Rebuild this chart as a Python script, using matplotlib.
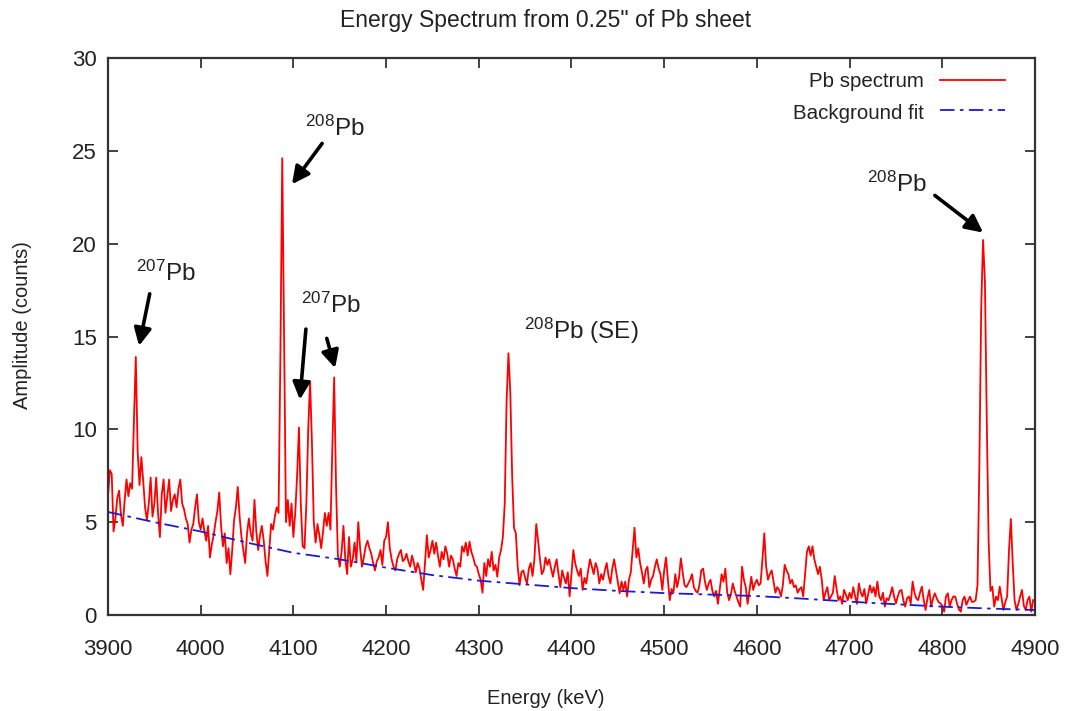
import numpy as np
import matplotlib
matplotlib.use("Agg")
import matplotlib.pyplot as plt
from matplotlib.lines import Line2D

plt.rcParams['font.family'] = ['Liberation Sans', 'DejaVu Sans']
plt.rcParams['mathtext.default'] = 'regular'

# Spectrum, 2 keV bins from 3900 to 4898 keV
energy = np.arange(3900, 4900, 2)
amplitude = [
    6.4, 7.8, 7.6, 4.5, 5.2, 6.3, 6.7, 5.4, 4.8, 6.2, 7.3, 6.4, 7.1, 6.8, 10.5, 13.9, 8.8, 7.0, 8.5, 7.2, 5.8, 5.1, 6.0, 7.4, 5.3,
    6.0, 7.4, 5.5, 4.2, 6.5, 7.3, 5.5, 6.4, 7.3, 5.6, 6.2, 6.5, 5.8, 6.8, 7.3, 6.0, 5.7, 5.2, 4.9, 3.9, 4.6, 4.9, 5.8, 6.5, 5.0,
    4.6, 5.2, 4.5, 4.0, 4.8, 3.1, 3.8, 4.3, 5.0, 5.6, 6.6, 4.8, 3.7, 4.4, 2.8, 3.6, 2.2, 3.5, 5.1, 5.8, 6.9, 5.3, 4.2, 3.5, 2.8,
    4.4, 5.2, 4.4, 4.0, 6.2, 4.5, 3.5, 4.3, 4.8, 4.0, 2.9, 2.1, 3.5, 4.9, 4.6, 5.3, 5.8, 5.5, 14.0, 24.6, 15.0, 5.0, 6.2, 4.8, 6.0,
    4.2, 5.5, 7.5, 10.1, 6.0, 3.7, 3.6, 6.0, 10.0, 12.6, 9.3, 5.0, 3.9, 4.9, 4.3, 3.6, 4.5, 5.5, 4.8, 5.5, 4.6, 9.0, 12.8, 7.0, 3.2,
    2.6, 3.4, 4.8, 3.0, 2.2, 4.2, 2.6, 3.0, 3.9, 2.9, 5.0, 3.6, 2.6, 3.1, 3.7, 4.0, 3.6, 3.3, 2.8, 2.4, 2.9, 3.1, 3.5, 2.7, 4.0,
    4.2, 5.0, 3.6, 3.0, 2.6, 2.4, 3.0, 3.3, 3.5, 2.9, 3.0, 3.3, 2.9, 2.6, 3.2, 2.8, 2.3, 2.8, 2.5, 1.9, 1.35, 2.8, 4.3, 3.1, 3.5,
    4.0, 3.3, 3.9, 3.2, 2.6, 3.4, 3.0, 3.7, 3.3, 2.6, 3.2, 3.0, 2.5, 2.1, 2.8, 2.6, 3.7, 3.4, 3.9, 3.2, 3.95, 3.4, 3.1, 2.7, 2.6,
    2.2, 1.9, 1.2, 2.8, 2.1, 3.0, 2.6, 3.4, 2.4, 2.7, 2.06, 3.1, 3.5, 4.2, 6.0, 11.5, 14.1, 12.0, 7.5, 4.7, 4.4, 2.6, 1.6, 2.3, 2.4,
    2.0, 1.7, 2.5, 2.8, 2.1, 3.0, 4.9, 4.0, 3.0, 2.2, 2.4, 3.1, 2.7, 3.0, 2.5, 2.06, 2.6, 3.0, 2.2, 1.5, 2.4, 2.0, 1.7, 2.3, 1.0,
    2.2, 3.5, 2.8, 2.4, 2.1, 2.5, 1.35, 2.0, 1.7, 2.4, 3.0, 2.6, 2.2, 2.8, 2.5, 1.7, 2.2, 1.9, 2.4, 2.8, 2.1, 1.7, 2.5, 3.0, 2.4,
    1.8, 1.17, 1.8, 1.35, 1.8, 1.0, 1.9, 2.3, 3.5, 4.7, 3.1, 3.6, 2.8, 2.3, 1.7, 2.4, 2.6, 1.5, 1.9, 2.1, 2.6, 3.0, 2.5, 2.2, 1.35,
    2.4, 3.1, 1.9, 0.8, 1.4, 1.2, 2.2, 1.5, 2.0, 3.05, 2.3, 1.6, 1.5, 1.7, 1.9, 2.2, 1.5, 1.3, 1.2, 1.6, 2.4, 2.5, 1.8, 1.35, 1.7,
    1.9, 1.3, 1.0, 1.3, 0.6, 1.4, 2.2, 1.8, 2.5, 1.2, 0.8, 1.1, 1.7, 1.3, 1.0, 0.7, 0.45, 2.6, 1.9, 1.5, 0.6, 1.3, 2.06, 1.35, 1.7,
    1.9, 1.6, 1.7, 3.0, 4.4, 2.6, 1.9, 2.2, 2.4, 1.8, 1.2, 1.5, 1.35, 1.0, 1.6, 2.7, 2.4, 2.2, 1.7, 1.9, 1.5, 1.6, 1.2, 1.4, 1.5,
    1.0, 2.2, 3.4, 3.7, 3.2, 3.7, 3.0, 2.6, 2.2, 2.6, 1.9, 0.8, 1.2, 1.5, 0.8, 1.0, 1.2, 2.1, 1.4, 0.8, 1.0, 0.6, 1.35, 1.1, 0.8,
    1.2, 0.9, 1.5, 1.0, 0.6, 1.7, 1.2, 1.0, 1.4, 0.63, 1.1, 1.6, 1.2, 1.5, 1.0, 1.8, 1.0, 0.8, 1.2, 0.45, 0.9, 0.8, 1.1, 1.5, 1.0,
    0.63, 1.0, 1.3, 1.35, 0.8, 0.45, 0.9, 1.0, 0.63, 1.8, 1.2, 0.9, 0.8, 1.2, 1.53, 0.8, 0.27, 0.9, 1.35, 0.45, 0.9, 1.17, 0.9, 0.7, 0.63,
    0.5, 0.18, 1.0, 1.17, 0.45, 0.8, 1.0, 0.99, 0.6, 0.3, 0.18, 0.8, 0.99, 0.54, 0.8, 0.99, 0.7, 0.72, 0.8, 1.6, 8.0, 16.5, 20.2, 18.0, 10.5,
    4.0, 1.3, 1.53, 0.45, 0.99, 0.8, 1.53, 0.9, 0.27, 0.7, 1.0, 3.5, 5.17, 2.8, 0.8, 0.27, 0.6, 1.0, 1.35, 0.5, 0.27, 0.8, 0.99, 0.18, 0.8,
]

# Background fit, every 50 keV
bg_energy = np.arange(3900, 4901, 50)
bg_values = [5.55, 5.0, 4.5, 3.9, 3.35, 3.0, 2.55, 2.15, 1.85, 1.65, 1.45,
             1.3, 1.18, 1.1, 1.02, 0.88, 0.72, 0.58, 0.45, 0.35, 0.27]

xticks = [3900, 4000, 4100, 4200, 4300, 4400, 4500, 4600, 4700, 4800, 4900]
yticks = [0, 5, 10, 15, 20, 25, 30]

text_col = '#222222'
fig = plt.figure(figsize=(10.65, 7.11), dpi=100)
ax = fig.add_axes([0.1014, 0.135, 0.8704, 0.7834])

ax.plot(energy, amplitude, color='#ff0000', lw=1.3)
ax.plot(bg_energy, bg_values, color='#1a1ad0', lw=1.3, dashes=(8, 3, 2, 3))

ax.set_xlim(3900, 4900)
ax.set_ylim(0, 30)
ax.set_xticks(xticks)
ax.set_yticks(yticks)
ax.tick_params(direction='in', length=7, width=1.2, top=True, right=True,
               labelsize=16, colors=text_col)
ax.tick_params(axis='x', pad=17)
ax.tick_params(axis='y', pad=8)
for s in ax.spines.values():
    s.set_linewidth(1.6)
    s.set_color('#333333')

ax.set_xlabel('Energy (keV)', fontsize=14.5, color=text_col, va='center')
ax.xaxis.set_label_coords(0.4725, -0.149)
ax.set_ylabel('Amplitude (counts)', fontsize=14.5, color=text_col, va='center')
ax.yaxis.set_label_coords(-0.092, 0.52)
fig.text(546 / 1065, 1 - 20 / 711, 'Energy Spectrum from 0.25" of Pb sheet',
         ha='center', va='center', fontsize=16.5, color=text_col)

# legend drawn gnuplot style: text right-aligned, sample to the right
ax.text(0.880, 0.957, 'Pb spectrum', transform=ax.transAxes, ha='right',
        va='center', fontsize=14.8, color=text_col)
ax.text(0.880, 0.901, 'Background fit', transform=ax.transAxes, ha='right',
        va='center', fontsize=14.8, color=text_col)
ax.add_line(Line2D([0.8975, 0.9676], [0.9605, 0.9605], transform=ax.transAxes,
                   color='#ff0000', lw=1.3))
ax.add_line(Line2D([0.8975, 0.9676], [0.9066, 0.9066], transform=ax.transAxes,
                   color='#1a1ad0', lw=1.3, dashes=(8, 3, 2, 3)))

arrow = dict(arrowstyle='-|>', color='black', lw=2.6, mutation_scale=26,
             shrinkA=0, shrinkB=0)
lab = dict(fontsize=17.5, color=text_col, ha='center', va='center')

ax.text(3962, 18.4, r'$^{207}$Pb', **lab)
ax.annotate('', xy=(3933.5, 14.5), xytext=(3945, 17.3), arrowprops=arrow)

ax.text(4145, 26.2, r'$^{208}$Pb', **lab)
ax.annotate('', xy=(4098.5, 23.2), xytext=(4131, 25.4), arrowprops=arrow)

ax.text(4140, 16.7, r'$^{207}$Pb', **lab)
ax.annotate('', xy=(4107, 11.6), xytext=(4113.5, 15.4), arrowprops=arrow)
ax.annotate('', xy=(4145, 13.3), xytext=(4136, 14.9), arrowprops=arrow)

ax.text(4411, 15.3, r'$^{208}$Pb (SE)', **lab)

ax.text(4751, 23.2, r'$^{208}$Pb', **lab)
ax.annotate('', xy=(4844, 20.6), xytext=(4792, 22.6), arrowprops=arrow)

fig.savefig('out.png', dpi=100)
